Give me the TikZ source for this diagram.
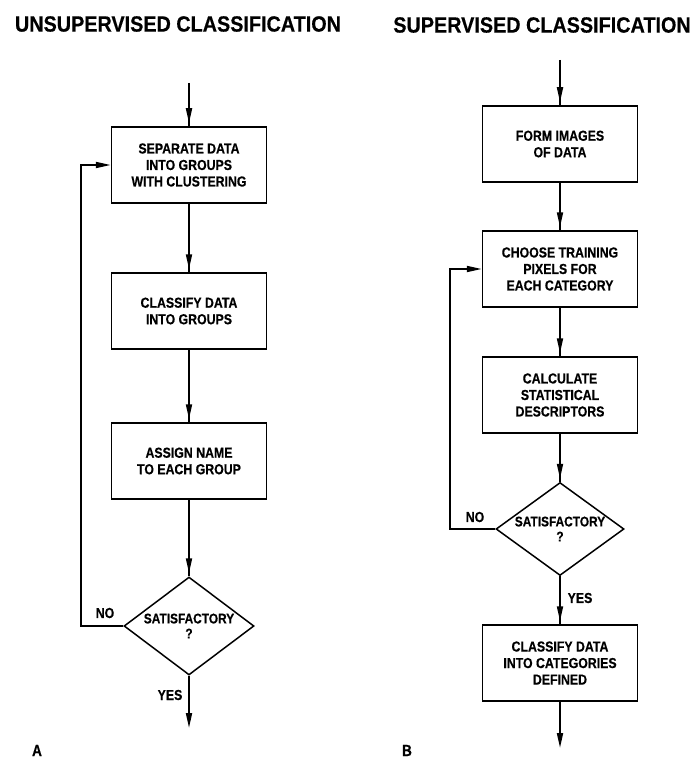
\documentclass[tikz,border=0pt]{standalone}
\usepackage{fontspec}
\setmainfont{Liberation Sans}[FakeStretch=0.85, BoldFeatures={FakeBold=0.4}]
\newfontfamily\headfont{Liberation Sans}[FakeStretch=0.9, BoldFeatures={FakeBold=0.4}]
\usetikzlibrary{shapes.geometric, arrows.meta, decorations.markings}
\tikzset{
    process/.style={rectangle, draw, line width=1.5pt, minimum width=155pt, minimum height=76pt, align=center, font=\fontsize{14.5}{16.5}\selectfont\bfseries},
    decision/.style={diamond, draw, line width=1.5pt, inner sep=0pt},
    question/.style={align=center, font=\fontsize{14}{15}\selectfont\bfseries},
    heading/.style={font=\headfont\fontsize{22}{26}\selectfont\bfseries},
    tag/.style={font=\fontsize{14.5}{16}\selectfont\bfseries},
    panel/.style={inner sep=0pt, anchor=base, font=\fontsize{16}{18}\selectfont\bfseries},
    flow/.style={line width=1.8pt, postaction={decorate}, decoration={markings, mark=at position -3pt with {\arrow{Triangle[length=15pt,width=6pt]}}}},
    flowend/.style={line width=1.8pt, -{Triangle[length=15pt,width=6pt]}}
}
\begin{document}
\begin{tikzpicture}[x=1pt, y=-1pt]
    \useasboundingbox (0,0) rectangle (695,762);
    % A: unsupervised
    \node[heading] (titleA) at (178,24) {UNSUPERVISED CLASSIFICATION};
    \node[process] (sep) at (189,165) {SEPARATE DATA\\INTO GROUPS\\WITH CLUSTERING};
    \node[process] (clsA) at (189,311) {CLASSIFY DATA\\INTO GROUPS};
    \node[process] (name) at (189,461) {ASSIGN NAME\\TO EACH GROUP};
    \node[decision, minimum width=130pt, minimum height=98pt,
        label={[question]center:{SATISFACTORY\\?}}] (satA) at (189,626) {};
    \coordinate (inA) at (189,83);
    \coordinate (outA) at (189,728);
    \draw[flow] (inA) -- (sep.north);
    \draw[flow] (sep.south) -- (clsA.north);
    \draw[flow] (clsA.south) -- (name.north);
    \draw[flow] (name.south) -- (satA.north);
    \draw[flowend] (satA.south) -- (outA);
    \draw[flowend] (satA.west) -- ++(-42,0) |- (sep.west);
    \node[tag] (noA) at (105,613) {NO};
    \node[tag] (yesA) at (170,695) {YES};
    \node[panel] (labA) at (37,756) {A};
    % B: supervised
    \node[heading] (titleB) at (542,25) {SUPERVISED CLASSIFICATION};
    \node[process] (img) at (560,144) {FORM IMAGES\\OF DATA};
    \node[process] (train) at (560,269) {CHOOSE TRAINING\\PIXELS FOR\\EACH CATEGORY};
    \node[process] (stat) at (560,395) {CALCULATE\\STATISTICAL\\DESCRIPTORS};
    \node[decision, minimum width=128pt, minimum height=93pt,
        label={[question]center:{SATISFACTORY\\?}}] (satB) at (560,529) {};
    \node[process] (clsB) at (560,663) {CLASSIFY DATA\\INTO CATEGORIES\\DEFINED};
    \coordinate (inB) at (560,60);
    \coordinate (outB) at (560,748);
    \draw[flow] (inB) -- (img.north);
    \draw[flow] (img.south) -- (train.north);
    \draw[flow] (train.south) -- (stat.north);
    \draw[flow] (stat.south) -- (satB.north);
    \draw[flow] (satB.south) -- (clsB.north);
    \draw[flowend] (clsB.south) -- (outB);
    \draw[flowend] (satB.west) -- ++(-45,0) |- (train.west);
    \node[tag] (noB) at (475,517) {NO};
    \node[tag] (yesB) at (580,598) {YES};
    \node[panel] (labB) at (407,756) {B};
\end{tikzpicture}
\end{document}
